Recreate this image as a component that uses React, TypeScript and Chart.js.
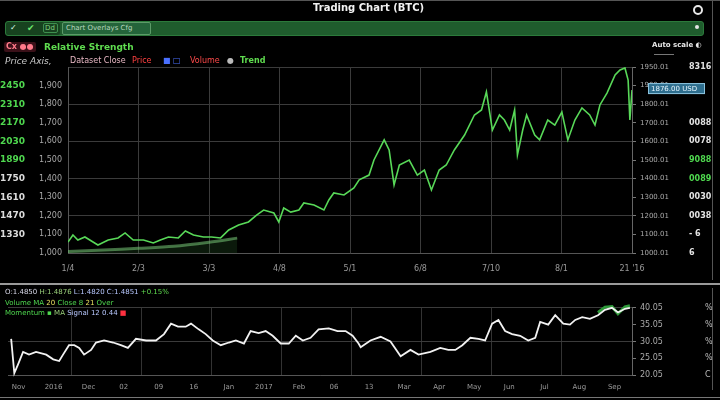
import React, { useEffect, useRef } from 'react';
import { Chart, registerables } from 'chart.js';
Chart.register(...registerables);

const FONT = '"DejaVu Sans", sans-serif';

// ---------- upper panel data ----------
const mainDays = [0,1.4,2.8,4.8,7.1,8.5,11.4,14.2,16.2,18.5,21.4,24.2,26.2,28.5,31.3,33.3,35.6,38.4,40.7,43.3,45.6,48.4,51.2,53.5,55.5,58.4,59.8,61.2,63.2,65.5,66.9,69.8,72.6,74.0,75.4,78.3,81.1,82.6,85.4,86.8,89.7,91.1,92.5,94.0,96.8,99.1,101.1,103.1,105.3,107.3,109.6,112.5,115.3,117.3,118.7,120.4,122.4,123.8,125.3,126.7,127.5,129.0,130.1,132.4,133.8,136.1,138.1,140.1,141.8,143.8,145.8,148.0,149.5,150.9,152.9,155.2,156.6,158.0,158.9,159.4,160];
const mainPrices = [1059,1097,1070,1086,1059,1043,1070,1081,1108,1070,1070,1054,1070,1086,1081,1118,1097,1086,1086,1081,1124,1151,1167,1204,1231,1215,1167,1242,1220,1231,1269,1258,1231,1285,1323,1312,1350,1393,1419,1500,1608,1554,1366,1473,1500,1419,1446,1339,1446,1473,1554,1634,1742,1769,1866,1661,1742,1715,1661,1769,1527,1661,1742,1634,1608,1715,1688,1758,1608,1715,1780,1742,1688,1796,1860,1957,1984,1995,1930,1715,1876];
const trendDays = [0,10,20,30,40,48];
const trendValues = [1008,1016,1025,1036,1058,1080];

const xTickDays = [0,20,40,60,80,100,120,140,160];
const xTickLabels = ['1/4','2/3','3/3','4/8','5/1','6/8','7/10','8/1',"21 '16"];
// top-to-bottom, 11 ticks (2000 .. 1000)
const leftOuterLabels = ['', '2450','2310','2170','2030','1890','1750','1610','1470','1330',''];
const leftInnerLabels = ['', '1,900','1,800','1,700','1,600','1,500','1,400','1,300','1,200','1,100','1,000'];
const rightLabels = ['1950.01','1900.01','1800.01','1700.01','1600.01','1500.01','1400.01','1300.01','1200.01','1100.01','1000.01'];
const rightOuterLabels = ['8316','','','0088','0078','9088','0089','0030','0038','- 6','6'];

// ---------- lower panel data ----------
const lowerDays = [-17.1,-16.2,-15.1,-13.7,-12.0,-10.0,-7.1,-5.1,-3.4,-2.3,-0.6,0.9,2.3,3.7,5.7,7.1,9.4,12.0,14.2,16.2,18.5,21.4,24.2,26.5,28.5,30.5,32.7,34.2,36.4,38.4,40.4,42.7,45.0,47.0,49.3,51.2,53.5,55.5,57.5,59.8,62.1,64.1,66.1,68.3,70.6,73.5,76.0,78.3,80.3,82.0,82.6,85.4,88.3,91.1,94.0,96.8,99.1,102.5,105.3,107.6,109.6,111.6,113.9,116.2,118.1,120.1,121.9,123.8,125.8,128.1,130.4,132.4,133.8,136.1,138.1,140.4,142.3,143.8,145.8,148.0,150.3,152.3,154.3,156.0,158.0,159.4];
const lowerValues = [30.8,20.6,23.3,26.9,26.1,26.9,26.1,24.7,24.2,26.1,28.9,28.9,28.1,26.1,27.5,29.7,30.3,29.7,28.9,28.1,30.8,30.3,30.3,32.2,35.3,34.4,34.4,35.3,33.6,32.2,30.3,28.9,29.7,30.3,29.4,33.1,32.5,33.1,31.7,29.4,29.4,31.7,30.3,31.1,33.6,33.9,33.1,33.1,31.7,29.4,28.3,30.3,31.4,30.0,25.6,27.5,26.1,26.9,28.1,27.5,27.5,28.9,31.1,30.8,30.3,35.3,36.4,33.1,32.2,31.7,30.3,31.1,35.8,35.0,37.8,35.3,35.0,36.4,37.2,36.7,37.8,39.4,40.0,38.6,39.7,40.0];
const signalDays = [150.3,152.3,154.3,156.0,158.0,159.4];
const signalValues = [38.6,40.2,40.4,38.2,40.3,40.6];
const lowerTickDays = [-15,-5,5,15,25,35,45,55,65,75,85,95,105,115,125,135,145,155];
const lowerTickLabels = ['Nov','2016','Dec','02','09','16','Jan','2017','Feb','06','13','Mar','Apr','May','Jun','Jul','Aug','Sep'];
const lowerGridDays = [0,20,40,60,80,100,120,140,160];
const lowerRightLabels = ['40.05','35.05','30.05','25.05','20.05'];
const lowerOuterLabels = ['%','%','%','%','C'];

const GRID = '#3b3b3b';

const priceTag = {
  id: 'priceTag',
  afterDraw(chart: any) {
    const s = chart.scales.yR;
    const last = mainPrices[mainPrices.length - 1];
    const y = s.getPixelForValue(last);
    const ctx = chart.ctx;
    ctx.save();
    ctx.fillStyle = '#2e6e8e';
    ctx.strokeStyle = '#8cc4df';
    ctx.lineWidth = 1;
    ctx.fillRect(s.left + 16, y - 7, 57, 11);
    ctx.strokeRect(s.left + 16.5, y - 6.5, 56, 10);
    ctx.fillStyle = '#e6f6ff';
    ctx.font = `7px ${FONT}`;
    ctx.textBaseline = 'middle';
    ctx.fillText(last.toFixed(2) + ' USD', s.left + 19, y - 1);
    ctx.restore();
  },
};

function yAxis(position: string, weight: number, width: number, extra: any) {
  return {
    position,
    weight,
    min: 1000,
    max: 2000,
    afterFit: (s: any) => { s.width = width; },
    grid: { display: false },
    border: { display: false },
    ...extra,
    ticks: { stepSize: 100, font: { family: FONT, size: 8 }, color: '#9a9a9a', ...(extra.ticks || {}) },
  };
}

const T = ({ x, y, c = '#ddd', s = 8, b = false, it = false, bg, children }: any) => (
  <div
    style={{
      position: 'absolute', left: x, top: y - s * 0.6, color: c, fontSize: s, lineHeight: 1.2,
      fontWeight: b ? 700 : 400, fontStyle: it ? 'italic' : 'normal', whiteSpace: 'nowrap',
      background: bg, fontFamily: FONT, padding: bg ? '0 2px' : 0, borderRadius: bg ? 2 : 0,
    }}
  >
    {children}
  </div>
);

export default function App() {
  const topRef = useRef<HTMLCanvasElement>(null);
  const botRef = useRef<HTMLCanvasElement>(null);

  useEffect(() => {
    document.body.style.margin = '0';
    document.body.style.background = '#000';

    const c1 = new Chart(topRef.current as HTMLCanvasElement, {
      type: 'line',
      data: {
        datasets: [
          {
            label: 'Close',
            data: mainDays.map((d, i) => ({ x: d, y: mainPrices[i] })),
            borderColor: '#58d858',
            borderWidth: 1.6,
            pointRadius: 0,
            tension: 0,
            yAxisID: 'yIn',
          },
          {
            label: 'Trend',
            data: trendDays.map((d, i) => ({ x: d, y: trendValues[i] })),
            borderColor: 'rgba(120,200,120,0.55)',
            borderWidth: 3,
            pointRadius: 0,
            tension: 0.3,
            fill: 'start',
            backgroundColor: 'rgba(60,140,60,0.18)',
            yAxisID: 'yIn',
          },
        ],
      } as any,
      options: {
        responsive: false,
        animation: false,
        layout: { padding: { top: 67, right: 8, left: 0, bottom: 0 } },
        plugins: { legend: { display: false }, tooltip: { enabled: false } },
        scales: {
          x: {
            type: 'linear',
            min: 0,
            max: 160,
            afterBuildTicks: (s: any) => { s.ticks = xTickDays.map((v) => ({ value: v })); },
            afterFit: (s: any) => { s.height = 27; },
            ticks: {
              autoSkip: false, maxRotation: 0, padding: 11, color: '#9a9a9a',
              font: { family: FONT, size: 8 },
              callback: (_v: any, i: number) => xTickLabels[i],
            },
            grid: { color: GRID, drawTicks: false },
            border: { color: '#555' },
          },
          yOut: yAxis('left', 2, 33, {
            ticks: {
              crossAlign: 'far', padding: 0,
              font: { family: FONT, size: 9, weight: 'bold' },
              color: (ctx: any) => (ctx.index >= 5 ? '#4fd84f' : '#dcdcdc'),
              callback: (_v: any, i: number) => leftOuterLabels[10 - i],
            },
          }),
          yIn: yAxis('left', 1, 35, {
            grid: {
              display: true,
              color: (ctx: any) => (ctx.index % 2 === 0 ? GRID : 'rgba(0,0,0,0)'),
              drawTicks: false,
            },
            border: { display: true, color: '#555' },
            ticks: { padding: 6, color: '#a8a8a8', callback: (_v: any, i: number) => leftInnerLabels[10 - i] },
          }),
          yR: yAxis('right', 1, 45, {
            grid: { display: true, color: 'rgba(0,0,0,0)', tickColor: '#777', tickLength: 4 },
            border: { display: true, color: '#666' },
            ticks: { padding: 4, color: '#aaa', font: { family: FONT, size: 7 }, callback: (_v: any, i: number) => rightLabels[10 - i] },
          }),
          yR2: yAxis('right', 2, 35, {
            ticks: {
              padding: 4,
              font: { family: FONT, size: 8, weight: 'bold' },
              color: (ctx: any) => (ctx.index === 5 || ctx.index === 4 ? '#4fd84f' : '#e2e2e2'),
              callback: (_v: any, i: number) => rightOuterLabels[10 - i],
            },
          }),
        },
      } as any,
      plugins: [priceTag],
    });

    const c2 = new Chart(botRef.current as HTMLCanvasElement, {
      type: 'line',
      data: {
        datasets: [
          {
            label: 'Oscillator',
            data: lowerDays.map((d, i) => ({ x: d, y: lowerValues[i] })),
            borderColor: '#f2f2f2',
            borderWidth: 1.8,
            pointRadius: 0,
            tension: 0,
            clip: 4,
            yAxisID: 'yR',
          },
          {
            label: 'Signal',
            data: signalDays.map((d, i) => ({ x: d, y: signalValues[i] })),
            borderColor: '#2f9a3a',
            borderWidth: 3,
            pointRadius: 0,
            tension: 0,
            clip: 6,
            yAxisID: 'yR',
          },
        ],
      } as any,
      options: {
        responsive: false,
        animation: false,
        layout: { padding: { top: 22, right: 8, left: 8, bottom: 0 } },
        plugins: { legend: { display: false }, tooltip: { enabled: false } },
        scales: {
          x: {
            type: 'linear',
            min: -18,
            max: 160,
            weight: 1,
            afterBuildTicks: (s: any) => { s.ticks = lowerTickDays.map((v) => ({ value: v })); },
            afterFit: (s: any) => { s.height = 23; },
            ticks: {
              autoSkip: false, maxRotation: 0, padding: 0, color: '#9a9a9a',
              font: { family: FONT, size: 7 },
              callback: (_v: any, i: number) => lowerTickLabels[i],
            },
            grid: { display: false },
            border: { color: '#555' },
          },
          xg: {
            type: 'linear',
            position: 'bottom',
            min: -18,
            max: 160,
            weight: 0,
            afterBuildTicks: (s: any) => { s.ticks = lowerGridDays.map((v) => ({ value: v })); },
            afterFit: (s: any) => { s.height = 0; },
            ticks: { display: false },
            grid: { color: '#333', drawTicks: false },
            border: { display: false },
          },
          yR: {
            position: 'right',
            weight: 1,
            min: 20,
            max: 40,
            afterFit: (s: any) => { s.width = 45; },
            grid: {
              color: (ctx: any) => (ctx.index % 2 === 0 ? GRID : 'rgba(0,0,0,0)'),
              tickColor: '#777', tickLength: 4,
            },
            border: { color: '#666' },
            ticks: {
              stepSize: 5, padding: 4, color: '#aaa', font: { family: FONT, size: 8 },
              callback: (_v: any, i: number) => lowerRightLabels[4 - i],
            },
          },
          yR2: {
            position: 'right',
            weight: 2,
            min: 20,
            max: 40,
            afterFit: (s: any) => { s.width = 35; },
            grid: { display: false },
            border: { display: false },
            ticks: {
              stepSize: 5, padding: 20, color: '#bbb', font: { family: FONT, size: 8 },
              callback: (_v: any, i: number) => lowerOuterLabels[4 - i],
            },
          },
        },
      } as any,
    });

    return () => {
      c1.destroy();
      c2.destroy();
    };
  }, []);

  return (
    <div style={{ position: 'relative', width: 720, height: 400, background: '#000', overflow: 'hidden', fontFamily: FONT }}>
      <canvas ref={topRef} width={720} height={280} style={{ position: 'absolute', left: 0, top: 0, width: 720, height: 280 }} />
      <canvas ref={botRef} width={720} height={117} style={{ position: 'absolute', left: 0, top: 283, width: 720, height: 117 }} />

      {/* frame lines */}
      <div style={{ position: 'absolute', left: 0, top: 0, width: 720, height: 1, background: '#555' }} />
      <div style={{ position: 'absolute', left: 712, top: 0, width: 1, height: 280, background: '#555' }} />
      <div style={{ position: 'absolute', left: 712, top: 288, width: 1, height: 102, background: '#555' }} />
      <div style={{ position: 'absolute', left: 0, top: 283, width: 720, height: 2, background: '#9a9a9a' }} />
      <div style={{ position: 'absolute', left: 0, top: 397, width: 720, height: 1, background: '#777' }} />

      {/* title */}
      <T x={313} y={8} c="#f2f2f2" s={10} b>Trading Chart (BTC)</T>
      <div style={{ position: 'absolute', left: 693, top: 5, width: 6, height: 6, borderRadius: 5, border: '2px solid #e8e8e8' }} />

      {/* green toolbar */}
      <div style={{ position: 'absolute', left: 5, top: 21, width: 699, height: 15, background: '#1f5c2d', border: '1px solid #2c7a3b', borderRadius: 3, boxSizing: 'border-box' }} />
      <div style={{ position: 'absolute', left: 6, top: 22, width: 54, height: 13, background: '#17421f', borderRadius: 3 }} />
      <T x={10} y={28} c="#dfe" s={8} b>✓</T>
      <T x={27} y={28} c="#6fe86f" s={9} b>✔</T>
      <div style={{ position: 'absolute', left: 43, top: 23, width: 15, height: 10, border: '1px solid #3f8f4f', borderRadius: 2, boxSizing: 'border-box' }} />
      <T x={45} y={28} c="#7fd07f" s={7}>Dd</T>
      <div style={{ position: 'absolute', left: 62, top: 22, width: 89, height: 13, border: '1px solid #5c9a68', borderRadius: 2, background: '#24643a', boxSizing: 'border-box' }} />
      <T x={66} y={28} c="#b8d6bd" s={7}>Chart Overlays Cfg</T>
      <div style={{ position: 'absolute', left: 695, top: 25, width: 4, height: 4, borderRadius: 2, background: '#e6e6e6' }} />

      {/* second row */}
      <T x={4} y={47} c="#ff7a8a" s={8} b bg="#3a1018">Cx ●●</T>
      <T x={44} y={47} c="#5fdc4f" s={9} b>Relative Strength</T>
      <T x={652} y={45} c="#e8e8e8" s={7} b>Auto scale ◐</T>

      {/* legend row */}
      <T x={5} y={61} c="#c8c8c8" s={9} it>Price Axis,</T>
      <T x={70} y={61} c="#e8b8c4" s={8}>Dataset Close</T>
      <T x={132} y={61} c="#ff4040" s={8}>Price</T>
      <T x={163} y={61} c="#4a70ff" s={8}>■ □</T>
      <T x={190} y={61} c="#ff4a4a" s={8}>Volume</T>
      <T x={227} y={61} c="#bbb" s={8}>●</T>
      <T x={240} y={61} c="#5fdc4f" s={8} b>Trend</T>
      <div style={{ position: 'absolute', left: 654, top: 54, width: 20, height: 1, background: '#777' }} />

      {/* lower panel header text */}
      <T x={5} y={292} c="#d8d8e8" s={7}>
        O:1.4850 <span style={{ color: '#9ad07a' }}>H:1.4876</span> <span style={{ color: '#b8c8ff' }}>L:1.4820 C:1.4851</span> <span style={{ color: '#5fdc4f' }}>+0.15%</span>
      </T>
      <T x={5} y={303} c="#4fd84f" s={7}>
        Volume MA <span style={{ color: '#e8e060' }}>20</span> Close 8 <span style={{ color: '#e8e060' }}>21</span> Over
      </T>
      <T x={5} y={313} c="#4fd84f" s={7}>
        Momentum ▪ <span style={{ color: '#9ad07a' }}>MA</span> <span style={{ color: '#b8c8ff' }}>Signal 12 0.44</span> <span style={{ color: '#ff3040' }}>■</span>
      </T>
    </div>
  );
}
